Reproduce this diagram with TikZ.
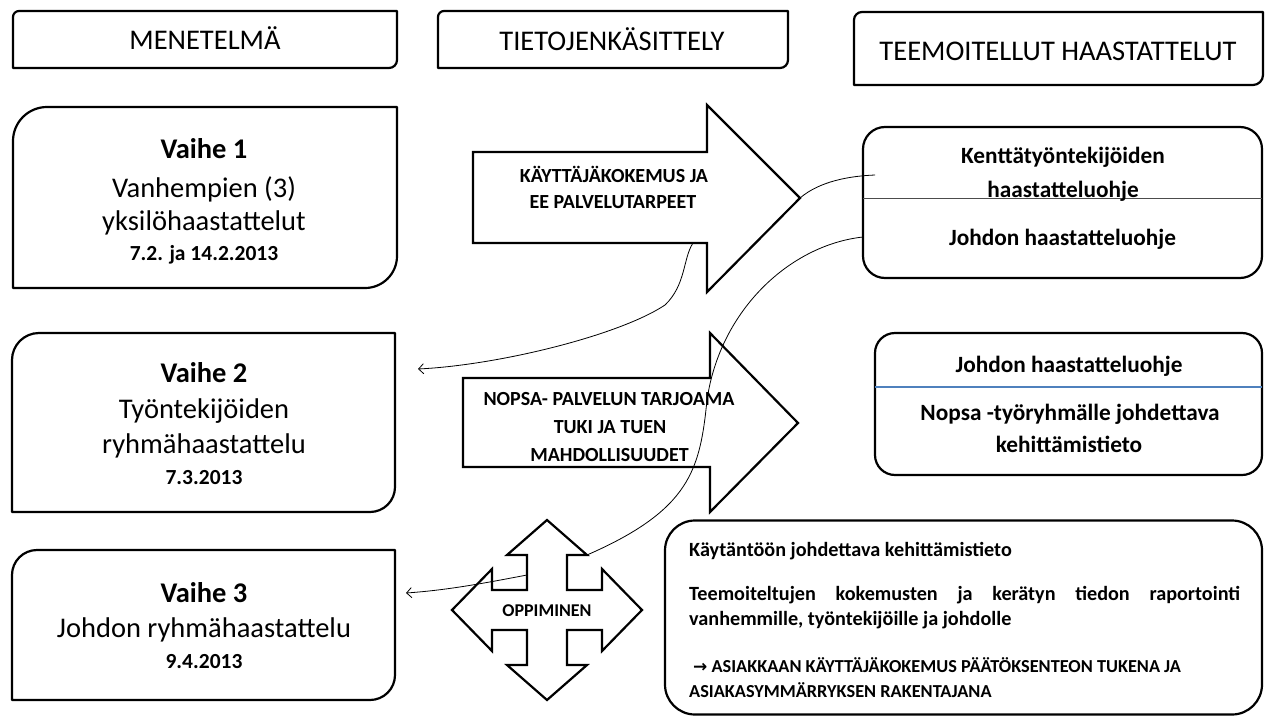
\documentclass[tikz,border=0pt]{standalone}
\usepackage{fontspec}
\setmainfont{Carlito}
\newfontfamily\symfont{DejaVu Sans}
\usetikzlibrary{arrows.meta}
\definecolor{divblue}{RGB}{79,129,189}
\newcommand\fs[1]{\fontsize{#1}{#1}\selectfont}
% box with rounded top-left and bottom-right corners, square elsewhere
\newcommand\diagbox[3]{%
  \draw[boxline] (#1.south west) -- ([yshift=-#2]#1.north west)
    arc[start angle=180,end angle=90,radius=#2] -- (#1.north east)
    -- ([yshift=#3]#1.south east)
    arc[start angle=0,end angle=-90,radius=#3] -- cycle;}
\begin{document}
\begin{tikzpicture}[x=1pt,y=-1pt,
  boxline/.style={line width=2.2pt, line join=round},
  shapeline/.style={line width=2.2pt, line join=miter, fill=white},
  area/.style={inner sep=0pt, outer sep=0pt, draw=none},
  rbox/.style={inner sep=0pt, outer sep=0pt, draw, line width=2.2pt},
  conn/.style={line width=0.8pt},
  tip/.style={-{Straight Barb[length=5pt,width=10pt]}},
  txt/.style={inner sep=0pt, anchor=base},
  hdr/.style={txt, font=\fs{28.5}},
  ph/.style={txt, font=\fs{28.5}},
  phb/.style={txt, font=\fs{28.5}\bfseries},
  dt/.style={txt, font=\fs{21.5}\bfseries},
  arr/.style={txt, font=\fs{20}\bfseries},
  rb/.style={txt, font=\fs{23.3}\bfseries},
  bct/.style={inner sep=0pt, anchor=base west, font=\fs{20.2}\bfseries},
  bcc/.style={inner sep=0pt, anchor=base west, font=\fs{18.3}\bfseries},
]
\fill[white] (0,0) rectangle (1265,717);
\useasboundingbox (0,0) rectangle (1265,717);

% column headers
\node[area, minimum width=384pt, minimum height=57pt] (h1) at (205,39.5) {};
\node[area, minimum width=350pt, minimum height=57pt] (h2) at (613,39.5) {};
\node[area, minimum width=409pt, minimum height=73pt] (h3) at (1058.5,48.5) {};
\diagbox{h1}{6pt}{8pt}
\diagbox{h2}{6pt}{8pt}
\diagbox{h3}{8pt}{10pt}

% phase boxes
\node[area, minimum width=384pt, minimum height=181pt] (v1) at (205,197.5) {};
\node[area, minimum width=383pt, minimum height=179pt] (v2) at (203.5,422.5) {};
\node[area, minimum width=383pt, minimum height=150pt] (v3) at (203.5,625) {};
\diagbox{v1}{34pt}{32pt}
\diagbox{v2}{27pt}{25pt}
\diagbox{v3}{25pt}{25pt}

% result boxes
\node[rbox, rounded corners=22pt, minimum width=399pt, minimum height=151pt] (ba) at (1062.5,202.5) {};
\node[rbox, rounded corners=20pt, minimum width=387pt, minimum height=142pt] (bb) at (1068.5,404) {};
\node[rbox, rounded corners=30pt, minimum width=597pt, minimum height=194pt] (bc) at (963.5,617.5) {};
\draw[gray!60!black, line width=1pt] (863,198) -- (1262,198);
\draw[divblue, line width=1.1pt] (875,387) -- (1262,387);

% block arrows
\draw[shapeline] (463,378) -- (710,378) -- (710,333) -- (798,423) -- (710,512)
  -- (710,467) -- (463,467) -- cycle;
\draw[shapeline] (473,152) -- (707,152) -- (707,105) -- (800,198) -- (707,292)
  -- (707,243) -- (473,243) -- cycle;
\coordinate (a1tip) at (800,198);
\coordinate (a1foot) at (693,243);

% four-way arrow
\begin{scope}[shift={(547,610)}]
  \draw[shapeline] (0,-90) -- (40,-55) -- (20,-55) -- (20,-20) -- (55,-20)
    -- (55,-41) -- (95,0) -- (55,41) -- (55,20) -- (20,20) -- (20,55)
    -- (40,55) -- (0,90) -- (-40,55) -- (-20,55) -- (-20,20) -- (-55,20)
    -- (-55,41) -- (-95,0) -- (-55,-41) -- (-55,-20) -- (-20,-20)
    -- (-20,-55) -- (-40,-55) -- cycle;
  \coordinate (oppNE) at (40,-55);
  \coordinate (oppW) at (-20,-35);
\end{scope}

% connector end points
\coordinate (baIn) at (875,175);
\coordinate (baW) at (863,237);
\coordinate (v2in) at (418,369);
\coordinate (v3in) at (406,593);

% connectors
\draw[conn, tip] (a1foot) .. controls (683,258) and (686,285) .. (665,305)
  .. controls (620,335) and (500,365) .. (v2in);
\draw[conn] (a1tip) .. controls (820,181) and (850,176) .. (baIn);
\draw[conn] (baW) .. controls (790,245) and (720,310) .. (707,400)
  .. controls (700,470) and (690,510) .. (oppNE);
\draw[conn, tip] (oppW) .. controls (490,582) and (450,590) .. (v3in);

% header texts
\node[hdr] (h1t) at (205,50) {MENETELMÄ};
\node[hdr] (h2t) at (612,51) {TIETOJENKÄSITTELY};
\node[hdr] (h3t) at (1058,60) {TEEMOITELLUT HAASTATTELUT};

% phase texts
\node[phb] (v1a) at (204,158) {Vaihe 1};
\node[ph]  (v1b) at (204,197) {Vanhempien (3)};
\node[ph]  (v1c) at (204,230) {yksilöhaastattelut};
\node[dt]  (v1d) at (204,260) {7.2. ja 14.2.2013};
\node[phb] (v2a) at (204,382) {Vaihe 2};
\node[ph]  (v2b) at (204,418) {Työntekijöiden};
\node[ph]  (v2c) at (204,453) {ryhmähaastattelu};
\node[dt]  (v2d) at (204,484) {7.3.2013};
\node[phb] (v3a) at (204,602) {Vaihe 3};
\node[ph]  (v3b) at (204,637) {Johdon ryhmähaastattelu};
\node[dt]  (v3c) at (204,668) {9.4.2013};

% arrow texts
\node[arr] (a1a) at (614,182) {KÄYTTÄJÄKOKEMUS JA};
\node[arr] (a1b) at (613,208) {EE PALVELUTARPEET};
\node[arr] (a2a) at (609,405) {NOPSA- PALVELUN TARJOAMA};
\node[arr] (a2b) at (610,433) {TUKI JA TUEN};
\node[arr] (a2c) at (609.5,461) {MAHDOLLISUUDET};
\node[txt, font=\fs{18}\bfseries] (oppt) at (547,616.5) {OPPIMINEN};

% result box texts
\node[rb] (baa) at (1063,163) {Kenttätyöntekijöiden};
\node[rb] (bab) at (1063,197) {haastatteluohje};
\node[rb] (bac) at (1062.5,245) {Johdon haastatteluohje};
\node[rb] (bba) at (1069,372) {Johdon haastatteluohje};
\node[rb] (bbb) at (1070,420) {Nopsa -työryhmälle johdettava};
\node[rb] (bbc) at (1069,452) {kehittämistieto};

\node[bct] (bca) at (689,556) {Käytäntöön johdettava kehittämistieto};
\node[bct] (bcb) at (689,600) {\makebox[551pt][s]{Teemoiteltujen kokemusten ja kerätyn tiedon raportointi}};
\node[bct] (bcc) at (689,625) {vanhemmille, työntekijöille ja johdolle};
\node[bcc] (bcd) at (693,672) {{\symfont\bfseries\fs{17}→}\ ASIAKKAAN KÄYTTÄJÄKOKEMUS PÄÄTÖKSENTEON TUKENA JA};
\node[bcc] (bce) at (689,697) {ASIAKASYMMÄRRYKSEN RAKENTAJANA};
\end{tikzpicture}
\end{document}
